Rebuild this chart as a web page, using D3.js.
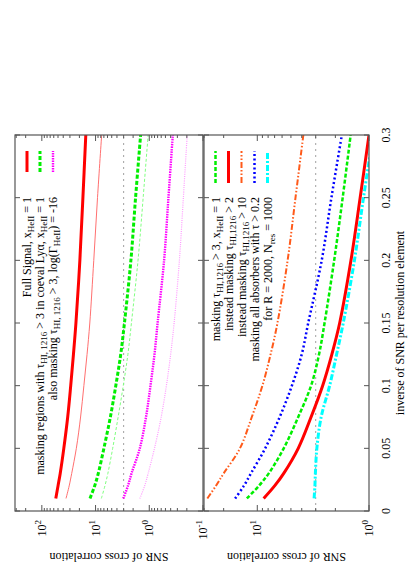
<!DOCTYPE html>
<html>
<head>
<meta charset="utf-8">
<script src="https://cdn.jsdelivr.net/npm/d3@7"></script>
<style>
  body { margin: 0; background: #fff; }
  svg { display: block; }
</style>
</head>
<body>
<script>
// values (SNR of cross correlation vs inverse SNR per pixel)
const xVals = [0.01, 0.02, 0.03, 0.05, 0.075, 0.1, 0.125, 0.15, 0.2, 0.25, 0.3];

// upper panel
const fullThick  = [55, 50, 45.5, 39, 33, 29, 25.8, 23.2, 19.6, 17.2, 15.2];
const fullThin   = [35.5, 31, 27.8, 22.8, 19, 16.5, 14.4, 12.8, 10.8, 9.2, 7.7];
const mask3Thick = [12.7, 10.4, 8.9, 7.0, 5.3, 4.2, 3.4, 2.9, 2.2, 1.8, 1.45];
const mask3Thin  = [7.8, 6.7, 5.9, 4.8, 3.8, 3.05, 2.5, 2.15, 1.62, 1.3, 1.05];
const gammaThick = [3.05, 2.5, 2.14, 1.5, 1.15, 0.95, 0.8, 0.7, 0.53, 0.44, 0.365];
const gammaThin  = [1.5, 1.22, 1.05, 0.8, 0.6, 0.48, 0.4, 0.345, 0.275, 0.232, 0.197];

// lower panel
const mask3   = [12.4, 9.7, 7.9, 5.8, 4.3, 3.3, 2.8, 2.5, 2.05, 1.72, 1.46];
const mask2   = [8.77, 7.0, 5.8, 4.3, 3.3, 2.6, 2.15, 1.83, 1.45, 1.2, 1.0];
const mask10  = [28, 23.5, 20, 14.3, 11.2, 9.0, 7.6, 6.6, 5.35, 4.55, 3.87];
const maskAll = [15.8, 13.2, 11.4, 8.5, 6.3, 4.9, 4.0, 3.5, 2.65, 2.17, 1.75];
const lowRes  = [3.1, 3.05, 3.02, 2.93, 2.68, 2.25, 1.95, 1.7, 1.35, 1.12, 0.92];

const snrLimit = 3;
const xTicks = [0, 0.05, 0.1, 0.15, 0.2, 0.25, 0.3];
const xTickLabels = ["0", "0.05", "0.1", "0.15", "0.2", "0.25", "0.3"];

const topLegend = [
  ["Full Signal, x", ["HeII"], " = 1"],
  ["masking regions with \u03c4", ["HI, 1216"], " > 3 in coeval Ly\u03b1, x", ["HeII"], " = 1"],
  ["also masking \u03c4", ["HI, 1216"], " > 3, log(\u0393", ["HeII"], ") = -16"]
];
const botLegend = [
  ["masking \u03c4", ["HI,1216"], " > 3, x", ["HeII"], " = 1"],
  ["instead masking \u03c4", ["HI,1216"], " > 2"],
  ["instead masking \u03c4", ["HI,1216"], " > 10"],
  ["masking all absorbers with \u03c4 > 0.2"],
  ["for R = 2000, N", ["res"], " = 1000"]
];

const FONT = "Liberation Serif, Times New Roman, serif";
const W = 583, H = 408;   // figure is drawn unrotated, then turned a quarter left

const svg = d3.select("body").append("svg").attr("width", 408).attr("height", 583);
const fig = svg.append("g").attr("transform", `translate(0,${W}) rotate(-90)`)
  .attr("font-family", FONT).attr("font-size", 12);

const x = d3.scaleLinear().domain([0, 0.3]).range([72, 448]);
const yTop = d3.scaleLog().domain([0.1, 316]).range([203, 15]);
const yBot = d3.scaleLog().domain([1, 30]).range([369, 204]);

const styles = {
  fullThick:  {stroke: "#ff0000", w: 3,   dash: null},
  fullThin:   {stroke: "#ff7070", w: 1,   dash: null},
  mask3Thick: {stroke: "#00ee00", w: 3,   dash: "4,2"},
  mask3Thin:  {stroke: "#80ff80", w: 1,   dash: "3,2"},
  gammaThick: {stroke: "#ff00ff", w: 2.4, dash: "1.5,1"},
  gammaThin:  {stroke: "#ff99ff", w: 1.2, dash: "1,1.2"},
  mask3:      {stroke: "#00ee00", w: 2.5, dash: "4,2"},
  mask2:      {stroke: "#ff0000", w: 3,   dash: null},
  mask10:     {stroke: "#ff5a1a", w: 2,   dash: "6,2,1.5,2,1.5,2"},
  maskAll:    {stroke: "#0000ff", w: 2.5, dash: "2,2.5"},
  lowRes:     {stroke: "#00ffff", w: 3,   dash: "6,2,2,2"},
  limit:      {stroke: "#a0a0a0", w: 1,   dash: "2,4"}
};

const defs = svg.append("defs");
function panel(id, y, series, legend, legendY, sampleX0, showXLabels) {
  const [y0, y1] = y.range();
  defs.append("clipPath").attr("id", id).append("rect")
    .attr("x", x(0)).attr("y", y1).attr("width", x(0.3) - x(0)).attr("height", y0 - y1);

  const g = fig.append("g");
  const plot = g.append("g").attr("clip-path", `url(#${id})`);

  // SNR = 3 reference line
  plot.append("line")
    .attr("x1", x(0)).attr("x2", x(0.3)).attr("y1", y(snrLimit)).attr("y2", y(snrLimit))
    .attr("stroke", styles.limit.stroke).attr("stroke-width", styles.limit.w)
    .attr("stroke-dasharray", styles.limit.dash);

  const line = d3.line().x((d, i) => x(xVals[i])).y(d => y(d)).curve(d3.curveCatmullRom.alpha(0.5));
  series.forEach(s => {
    const st = styles[s.key];
    plot.append("path").datum(s.values)
      .attr("d", line).attr("fill", "none")
      .attr("stroke", st.stroke).attr("stroke-width", st.w)
      .attr("stroke-dasharray", st.dash);
  });

  // ticks
  const tg = g.append("g").attr("stroke", "#555").attr("stroke-width", 1);
  xTicks.forEach(v => {
    tg.append("line").attr("x1", x(v)).attr("x2", x(v)).attr("y1", y0).attr("y2", y0 - 5);
    tg.append("line").attr("x1", x(v)).attr("x2", x(v)).attr("y1", y1).attr("y2", y1 + 5);
  });
  const [lo, hi] = y.domain();
  const yt = [];
  for (let e = Math.floor(Math.log10(lo)); e <= Math.ceil(Math.log10(hi)); e++) {
    for (let m = 1; m < 10; m++) {
      const v = m * Math.pow(10, e);
      if (v >= lo * 0.999 && v <= hi * 1.001) yt.push({v, major: m === 1, e});
    }
  }
  yt.forEach(t => {
    const len = t.major ? 6 : 3;
    tg.append("line").attr("x1", x(0)).attr("x2", x(0) + len).attr("y1", y(t.v)).attr("y2", y(t.v));
    tg.append("line").attr("x1", x(0.3)).attr("x2", x(0.3) - len).attr("y1", y(t.v)).attr("y2", y(t.v));
    if (t.major) {
      const tx = g.append("text").attr("x", 63).attr("y", y(t.v) + 4).attr("text-anchor", "end");
      tx.append("tspan").text("10");
      tx.append("tspan").attr("dy", -5).attr("font-size", 9).text(t.e);
    }
  });

  g.append("rect").attr("x", x(0)).attr("y", y1).attr("width", x(0.3) - x(0)).attr("height", y0 - y1)
    .attr("fill", "none").attr("stroke", "#555").attr("stroke-width", 1.2);

  if (showXLabels) {
    xTicks.forEach((v, i) => {
      g.append("text").attr("x", x(v)).attr("y", 390).attr("text-anchor", "middle").text(xTickLabels[i]);
    });
  }

  g.append("text").attr("transform", `translate(30,${(y0 + y1) / 2}) rotate(-90)`)
    .attr("text-anchor", "middle").text("SNR of cross correlation");

  // key
  legend.forEach((parts, i) => {
    const ly = legendY + 13 * i;
    const st = styles[series[i].key];
    g.append("line").attr("x1", sampleX0).attr("x2", 432).attr("y1", ly).attr("y2", ly)
      .attr("stroke", st.stroke).attr("stroke-width", st.w).attr("stroke-dasharray", st.dash);
    const t = g.append("text").attr("x", 386).attr("y", ly + 4).attr("text-anchor", "end");
    let down = false;
    parts.forEach(p => {
      if (typeof p === "string") {
        t.append("tspan").attr("dy", down ? -3 : 0).text(p);
        down = false;
      } else {
        t.append("tspan").attr("dy", down ? 0 : 3).attr("font-size", 9).text(p[0]);
        down = true;
      }
    });
  });
}

panel("clipTop", yTop, [
  {key: "fullThick", values: fullThick},
  {key: "mask3Thick", values: mask3Thick},
  {key: "gammaThick", values: gammaThick},
  {key: "fullThin", values: fullThin},
  {key: "mask3Thin", values: mask3Thin},
  {key: "gammaThin", values: gammaThin}
], topLegend, 27, 411, false);

panel("clipBot", yBot, [
  {key: "mask3", values: mask3},
  {key: "mask2", values: mask2},
  {key: "mask10", values: mask10},
  {key: "maskAll", values: maskAll},
  {key: "lowRes", values: lowRes}
], botLegend, 215.5, 400, true);

fig.append("text").attr("x", 260).attr("y", 404).attr("text-anchor", "middle")
  .text("inverse of SNR per resolution element");
</script>
</body>
</html>
